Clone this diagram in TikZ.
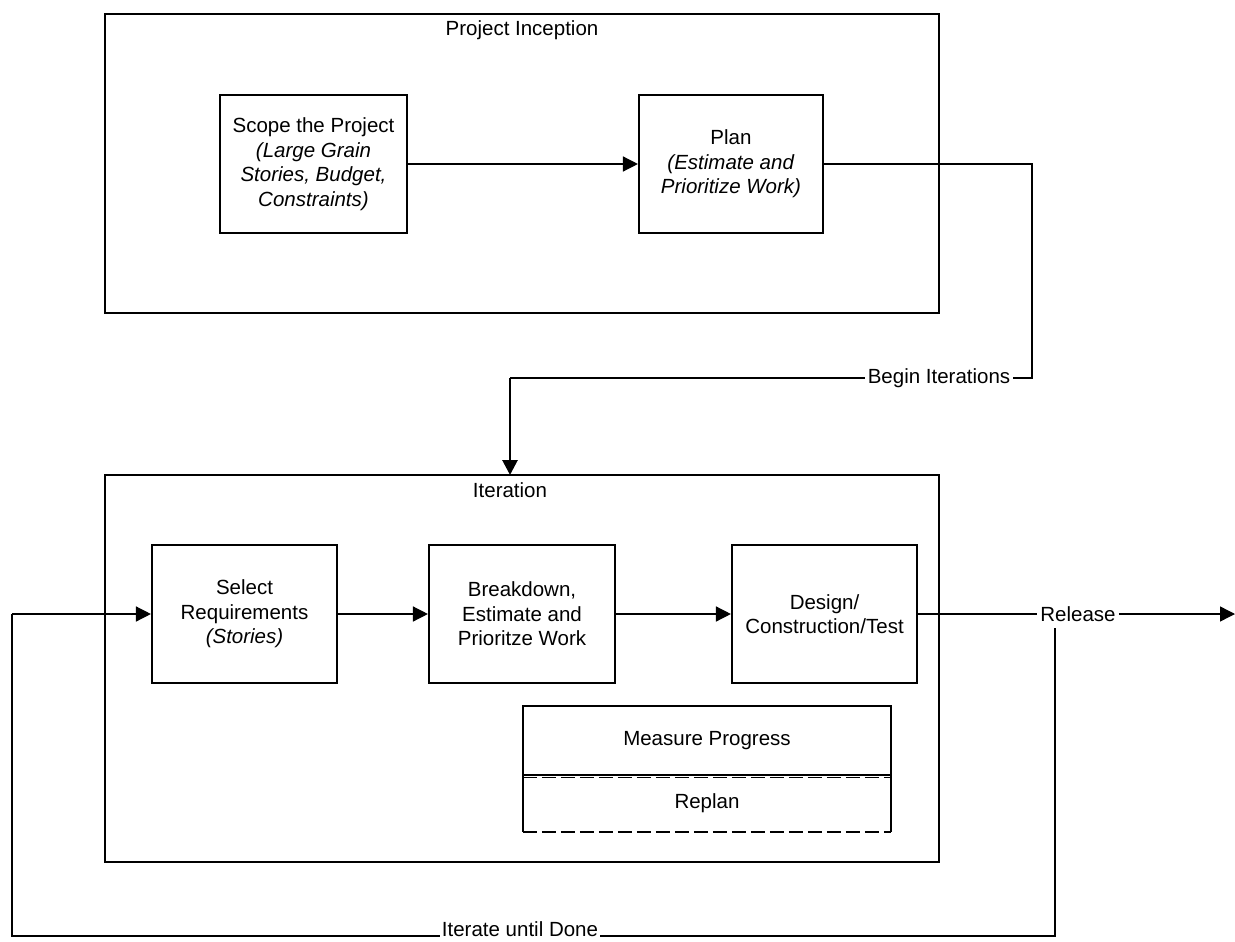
\documentclass[tikz,border=0pt]{standalone}
\usepackage{fontspec}
\setmainfont{Liberation Sans}
\usetikzlibrary{arrows.meta}
\begin{document}
\begin{tikzpicture}[x=1pt,y=-1pt,
  every node/.style={font=\fontsize{20.5}{24.5}\selectfont},
  frame/.style={draw, line width=2.2pt, minimum width=834pt, inner sep=0pt},
  stepbox/.style={draw, line width=2.1pt, minimum height=138pt, align=center, inner sep=0pt},
  lbl/.style={fill=white, inner sep=3pt},
  conn/.style={line width=1.4pt},
  arr/.style={conn, -{Triangle[length=15pt,width=15pt]}},
]
\useasboundingbox (0,0) rectangle (1235,942);

% Project Inception
\node[frame, minimum height=299pt] (incep) at (522,163.5) {};
\node (incept) at (522,30) {Project Inception};
\node[stepbox, minimum width=187pt] (scope) at (313.5,164)
  {Scope the Project\\\textit{(Large Grain}\\\textit{Stories, Budget,}\\\textit{Constraints)}};
\node[stepbox, minimum width=184pt] (plan) at (731,164)
  {Plan\\\textit{(Estimate and}\\\textit{Prioritize Work)}};
\draw[arr] (scope) -- (plan);

% Iteration
\node[frame, minimum height=387pt] (iter) at (522,668.5) {};
\node (itert) at (510,490) {Iteration};
\node[stepbox, minimum width=185pt] (select) at (244.5,614)
  {Select\\Requirements\\\textit{(Stories)}};
\node[stepbox, minimum width=186pt] (brk) at (522,614)
  {Breakdown,\\Estimate and\\Prioritze Work};
\node[stepbox, minimum width=185pt] (design) at (824.5,614)
  {Design/\\Construction/Test};
\draw[arr] (select) -- (brk);
\draw[arr] (brk) -- (design);

\node[draw, line width=2pt, minimum width=368pt, minimum height=69pt, inner sep=0pt] (meas) at (707,740.5) {Measure Progress};
\node[minimum width=368pt, minimum height=57pt, inner sep=0pt] (replan) at (707,803.5) {Replan};
\draw[line width=1.6pt, dash pattern=on 14pt off 5pt] (replan.north west) ++(0,2.5) -- ++(368,0);
\draw[line width=1.6pt, dash pattern=on 14pt off 5pt] (replan.south west) -- (replan.south east);
\draw[line width=1.6pt] (replan.north west) -- (replan.south west);
\draw[line width=2.4pt] (replan.north east) -- (replan.south east);

% Begin Iterations
\node[lbl] (begin) at (939,378) {Begin Iterations};
\coordinate (pturn) at (1032,164);
\coordinate (bturn) at (510,378);
\coordinate (bin) at (510,475);
\draw[conn] (plan.east) -- (pturn) |- (begin.east);
\draw[conn] (begin.west) -- (bturn);
\draw[line width=2.8pt, -{Triangle[length=15pt,width=15pt]}] (bturn) -- (bin);

% Release
\node[lbl] (release) at (1078,614) {Release};
\coordinate (exit) at (1235,614);
\draw[conn] (design) -- (release.west);
\draw[arr] (release.east) -- (exit);

% Iterate until Done loop
\node[lbl, inner sep=2pt] (iterate) at (520,929) {Iterate until Done};
\coordinate (rdown) at (1055,628);
\coordinate (rcorner) at (1055,936);
\coordinate (lcorner) at (12,614);
\coordinate (lbottom) at (12,936);
\draw[line width=2pt] (rdown) -- (rcorner) -- (iterate.east |- rcorner);
\draw[line width=2pt] (iterate.west |- lbottom) -- (lbottom) -- (lcorner);
\draw[arr] (lcorner) -- (select.west);
\end{tikzpicture}
\end{document}
